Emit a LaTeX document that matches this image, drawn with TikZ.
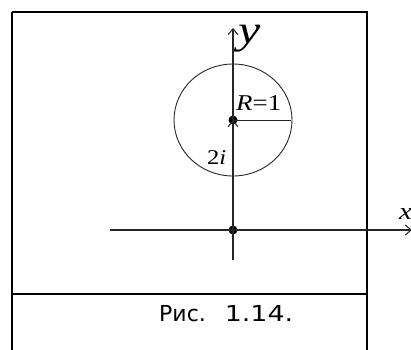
\documentclass[tikz,border=0pt]{standalone}
\usepackage{fontspec}
\setmainfont{Liberation Serif}
\newfontfamily\capfont{DejaVu Sans}
\usetikzlibrary{arrows.meta}
\begin{document}
\begin{tikzpicture}[x=1pt,y=-1pt,
  frame/.style={line width=2.2pt,black},
  axis/.style={line width=1.1pt,black!85,-{Straight Barb[length=6pt,width=10pt,line width=1pt]}},
  thin/.style={line width=0.9pt,black!85},
  dot/.style={circle,fill=black,inner sep=0pt,minimum size=9pt},
  lbl/.style={inner sep=0pt}]
\useasboundingbox (0,0) rectangle (411,349);
\fill[white] (0,0) rectangle (411,349);
% frame
\draw[frame] (12,12) -- (367,12) -- (367,360);
\draw[frame] (12,12) -- (12,360);
\draw[frame] (12,294) -- (367,294);
% points
\coordinate (xl) at (110,230);
\coordinate (xr) at (412,230);
\coordinate (yb) at (233,260);
\coordinate (yt) at (233,28);
\node[dot] (O) at (233,230) {};
\node[dot] (C) at (233,120) {};
\coordinate (Rr) at (291,120);
% circle
\draw[thin] (C.center) ellipse [x radius=59, y radius=56];
\draw[thin] (C.center) -- (Rr);
% axes
\draw[axis] (xl) -- (xr);
\draw[axis] (yb) -- (yt);
\draw[axis] (O.center) -- (C.center);
% labels
\node[lbl,font=\fontsize{40}{40}\selectfont,anchor=base west] (ylab) at (238,43) {\scalebox{1.25}[1]{\textit{y}}};
\node[lbl,font=\fontsize{24}{24}\selectfont,anchor=base west] (xlab) at (399,219) {\scalebox{1.2}[1]{\textit{x}}};
\node[lbl,font=\fontsize{22.6}{22.6}\selectfont,anchor=base west] (Rlab) at (236,110) {\scalebox{1.19}[1]{\textit{R}=1}};
\node[lbl,font=\fontsize{21}{21}\selectfont,anchor=base west] (ilab) at (207,164) {\scalebox{1.17}[1]{2\textit{i}}};
% caption
\node[inner sep=0pt,anchor=base west,font=\capfont\fontsize{22}{22}\selectfont] (cap) at (159,321) {Рис.\hspace{19pt}\scalebox{1.22}[1]{1.14.}};
\end{tikzpicture}
\end{document}
